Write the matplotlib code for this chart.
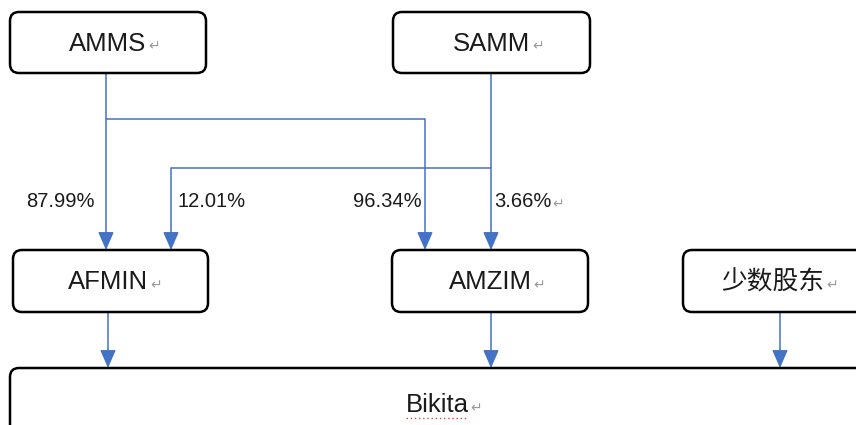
import matplotlib.pyplot as plt
from matplotlib.patches import FancyBboxPatch, FancyArrowPatch

plt.rcParams['font.family'] = ['Liberation Sans', 'Noto Sans CJK SC', 'DejaVu Sans']

# --- data ---
top_nodes = ['AMMS', 'SAMM']
mid_nodes = ['AFMIN', 'AMZIM', '少数股东']
bottom_node = 'Bikita'
share_labels = ['87.99%', '12.01%', '96.34%', '3.66%']
share_marks = [False, False, False, True]   # which labels carry the paragraph mark

# --- layout (pixel coords, y grows downward) ---
top_boxes = [(10, 12, 196, 61), (393, 12, 197, 61)]
mid_boxes = [(13, 250, 195, 62), (392, 250, 196, 62), (683, 250, 200, 62)]
bot_box = (10, 368, 880, 80)
blue = '#4472C4'

fig = plt.figure(figsize=(8.56, 4.25), dpi=100)
ax = fig.add_axes([0, 0, 1, 1])
ax.set_xlim(0, 856)
ax.set_ylim(425, 0)
ax.axis('off')


def box(x, y, w, h, label, size=18.5, tx=None):
    ax.add_patch(FancyBboxPatch((x, y), w, h, boxstyle='round,pad=0,rounding_size=9',
                                fc='white', ec='black', lw=1.8, zorder=2))
    cx = x + w / 2 if tx is None else tx
    cy = y + h / 2 + 1
    t = ax.text(cx, cy, label, ha='center', va='center', fontsize=size,
                color='#1a1a1a', zorder=3)
    return t


def mark_after(t, dx=2):
    # small grey paragraph mark after the text
    fig.canvas.draw()
    bb = t.get_window_extent()
    inv = ax.transData.inverted()
    x1, _ = inv.transform((bb.x1, bb.y0))
    _, yc = inv.transform((bb.x1, (bb.y0 + bb.y1) / 2))
    ax.text(x1 + dx, yc + 3, '↵', fontsize=10, color='#999999', ha='left',
            va='center', family='DejaVu Sans', zorder=3)


def line(xs, ys):
    ax.plot(xs, ys, color=blue, lw=1.1, zorder=1, solid_capstyle='butt')


def arrow(x, y0, y1):
    ax.add_patch(FancyArrowPatch((x, y0), (x, y1),
                                 arrowstyle='-|>,head_length=11,head_width=4.8',
                                 mutation_scale=1, color=blue, lw=1.1,
                                 shrinkA=0, shrinkB=0, zorder=1))


texts = []
for (x, y, w, h), name in zip(top_boxes, top_nodes):
    texts.append(box(x, y, w, h, name))
for (x, y, w, h), name, tx in zip(mid_boxes, mid_nodes, [108, 490, 773]):
    texts.append(box(x, y, w, h, name, tx=tx))
x, y, w, h = bot_box
tb = ax.text(437, 405, bottom_node, ha='center', va='center', fontsize=18.5,
             color='#1a1a1a', zorder=3)
ax.add_patch(FancyBboxPatch((x, y), w, h, boxstyle='round,pad=0,rounding_size=9',
                            fc='white', ec='black', lw=1.8, zorder=2))
texts.append(tb)
# spell-check squiggle under Bikita
ax.plot([406, 468], [418, 418], color='#e04040', lw=1.0, ls=(0, (1, 2)), zorder=3)

for t in texts:
    mark_after(t)

# connectors
line([106, 106], [73, 119])
line([106, 425], [119, 119])
line([491, 491], [73, 168])
line([171, 491], [168, 168])
arrow(106, 119, 250)
arrow(425, 119, 250)
arrow(491, 168, 250)
arrow(171, 168, 250)
arrow(108, 312, 368)
arrow(491, 312, 368)
arrow(780, 312, 368)

# share labels
label_x = [95, 178, 422, 494]
label_ha = ['right', 'left', 'right', 'left']
for lx, ha, lab, mk in zip(label_x, label_ha, share_labels, share_marks):
    t = ax.text(lx, 201, lab, ha=ha, va='center', fontsize=14.5, color='#1a1a1a')
    if mk:
        mark_after(t, dx=1)

fig.savefig('out.png', dpi=100)
